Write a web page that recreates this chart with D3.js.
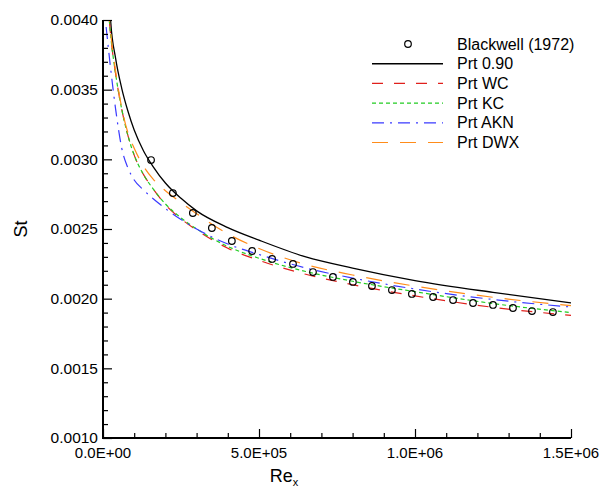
<!DOCTYPE html>
<html lang="en">
<head>
<meta charset="UTF-8">
<title>St vs Re_x</title>
<style>
  body { margin: 0; background: #fff; }
  text { font-family: "Liberation Sans", Arial, sans-serif; fill: #000; }
  .curve { fill: none; }
</style>
</head>
<body>
<script src="https://cdn.jsdelivr.net/npm/d3@7"></script>
<script>
// Re_x sample positions used for every model curve
const reGrid = [1e4, 2.5e4, 4e4, 6e4, 8e4, 1e5, 1.3e5, 1.6e5, 2e5, 2.5e5, 3e5, 4e5, 5e5, 6.5e5, 8e5, 1e6, 1.25e6, 1.5e6];

const stPrt090 = [0.0047, 0.00398, 0.00373, 0.00351, 0.003345, 0.00321, 0.00306, 0.00295, 0.00283, 0.00272, 0.00263, 0.00251, 0.00242, 0.0023, 0.00222, 0.00213, 0.002045, 0.00197];
const stWC  = [0.0043, 0.00388, 0.00362, 0.00336, 0.00317, 0.00303, 0.00289, 0.00279, 0.002675, 0.002573, 0.002492, 0.002362, 0.002275, 0.002175, 0.0021, 0.00202, 0.001938, 0.00188];
const stKC  = [0.0043, 0.00388, 0.00362, 0.00336, 0.00317, 0.00303, 0.00289, 0.00279, 0.00268, 0.00258, 0.0025, 0.002375, 0.00229, 0.002195, 0.002125, 0.00205, 0.001965, 0.0019];
const stAKN = [0.00395, 0.003641, 0.003368, 0.003081, 0.002938, 0.002852, 0.00278, 0.002719, 0.002647, 0.002568, 0.0025, 0.002392, 0.002317, 0.00222, 0.002148, 0.002069, 0.001994, 0.00194];
const stDWX = [0.0043, 0.0039, 0.00364, 0.00337, 0.00319, 0.00308, 0.00295, 0.00286, 0.002775, 0.00269, 0.00261, 0.002465, 0.00236, 0.002245, 0.00217, 0.00209, 0.00201, 0.00195];

// Blackwell (1972) measurements
const expRe = [1.54e5, 2.24e5, 2.88e5, 3.49e5, 4.13e5, 4.78e5, 5.42e5, 6.09e5, 6.73e5, 7.37e5, 8.01e5, 8.62e5, 9.26e5, 9.90e5, 1.058e6, 1.122e6, 1.186e6, 1.25e6, 1.314e6, 1.375e6, 1.442e6];
const expSt = [0.002995, 0.002758, 0.002615, 0.002507, 0.002414, 0.002342, 0.002285, 0.002249, 0.002191, 0.002156, 0.00212, 0.002091, 0.002062, 0.002034, 0.002012, 0.00199, 0.001969, 0.001955, 0.001933, 0.001911, 0.001904];

const xTicks = [0, 5e5, 1e6, 1.5e6];
const xTickLabels = ["0.0E+00", "5.0E+05", "1.0E+06", "1.5E+06"];
const yTicks = [0.001, 0.0015, 0.002, 0.0025, 0.003, 0.0035, 0.004];
const yTickLabels = ["0.0010", "0.0015", "0.0020", "0.0025", "0.0030", "0.0035", "0.0040"];

const series = [
  {name: "Prt 0.90", st: stPrt090, color: "#000000", dash: null},
  {name: "Prt WC",   st: stWC,     color: "#e0201c", dash: "11,11"},
  {name: "Prt KC",   st: stKC,     color: "#22cc22", dash: "4,3"},
  {name: "Prt AKN",  st: stAKN,    color: "#3a3aff", dash: "12,6,2,6"},
  {name: "Prt DWX",  st: stDWX,    color: "#ff8c1a", dash: "16,12"}
];

const width = 600, height = 489;
const margin = {top: 20, right: 29, bottom: 51, left: 103};

const x = d3.scaleLinear().domain([0, 1.5e6]).range([margin.left, width - margin.right]);
const y = d3.scaleLinear().domain([0.001, 0.004]).range([height - margin.bottom, margin.top]);

const svg = d3.select("body").append("svg")
  .attr("width", width)
  .attr("height", height);

svg.append("defs").append("clipPath").attr("id", "plot")
  .append("rect")
  .attr("x", margin.left).attr("y", margin.top)
  .attr("width", x.range()[1] - margin.left + 2)
  .attr("height", y.range()[0] - margin.top);

// curves
const line = d3.line().curve(d3.curveMonotoneX);
const plot = svg.append("g").attr("clip-path", "url(#plot)");
series.forEach(s => {
  plot.append("path")
    .attr("class", "curve")
    .attr("d", line(reGrid.map((r, i) => [x(r), y(s.st[i])])))
    .attr("stroke", s.color)
    .attr("stroke-width", s.dash ? 1.2 : 1.3)
    .attr("stroke-dasharray", s.dash);
});

svg.append("g")
  .selectAll("circle")
  .data(expRe.map((r, i) => ({re: r, st: expSt[i]})))
  .join("circle")
    .attr("cx", d => x(d.re))
    .attr("cy", d => y(d.st))
    .attr("r", 3.3)
    .attr("fill", "none")
    .attr("stroke", "#000")
    .attr("stroke-width", 1.2);

// axes (ticks point into the plot)
const xAxis = g => g
  .attr("transform", `translate(0,${y.range()[0]})`)
  .call(d3.axisTop(x).tickValues(d3.range(0, 1.5e6 + 1, 1e5)).tickSize(5).tickFormat(""))
  .call(g => g.selectAll(".tick line").filter(d => xTicks.includes(d)).attr("y2", -9))
  .call(g => g.select(".domain").remove());

const yAxis = g => g
  .attr("transform", `translate(${margin.left},0)`)
  .call(d3.axisRight(y).tickValues(d3.range(10, 41).map(v => v / 10000)).tickSize(5).tickFormat(""))
  .call(g => g.selectAll(".tick line").filter(d => yTicks.some(t => Math.abs(t - d) < 1e-9)).attr("x2", 9))
  .call(g => g.select(".domain").remove());

svg.append("g").call(xAxis).selectAll("line").attr("stroke", "#000").attr("stroke-width", 1.2);
svg.append("g").call(yAxis).selectAll("line").attr("stroke", "#000").attr("stroke-width", 1.2);

svg.append("path")
  .attr("d", `M${margin.left},${margin.top}V${y.range()[0]}H${x.range()[1]}`)
  .attr("fill", "none")
  .attr("stroke", "#000")
  .attr("stroke-width", 2);

svg.append("g").selectAll("text")
  .data(yTicks)
  .join("text")
    .attr("x", margin.left - 5)
    .attr("y", d => y(d))
    .attr("dy", "0.35em")
    .attr("text-anchor", "end")
    .attr("font-size", 15.5)
    .text((d, i) => yTickLabels[i]);

svg.append("g").selectAll("text")
  .data(xTicks)
  .join("text")
    .attr("x", d => x(d))
    .attr("y", y.range()[0] + 20)
    .attr("text-anchor", "middle")
    .attr("font-size", 15)
    .text((d, i) => xTickLabels[i]);

// axis titles
svg.append("text")
  .attr("transform", `translate(27,${y(0.0025)}) rotate(-90)`)
  .attr("text-anchor", "middle")
  .attr("font-size", 18)
  .text("St");

const xt = svg.append("text")
  .attr("x", x(0.58e6))
  .attr("y", 482)
  .attr("text-anchor", "middle")
  .attr("font-size", 18);
xt.append("tspan").text("Re");
xt.append("tspan").attr("font-size", 11).attr("dy", 4).text("x");

// legend
const leg = svg.append("g");
const rowY = i => 44 + i * 19.7;
leg.append("circle")
  .attr("cx", 408).attr("cy", rowY(0)).attr("r", 3.3)
  .attr("fill", "none").attr("stroke", "#000").attr("stroke-width", 1.2);
series.forEach((s, i) => {
  leg.append("line")
    .attr("x1", 372).attr("x2", 443)
    .attr("y1", rowY(i + 1)).attr("y2", rowY(i + 1))
    .attr("stroke", s.color)
    .attr("stroke-width", s.dash ? 1.2 : 1.5)
    .attr("stroke-dasharray", s.dash);
});
leg.selectAll("text")
  .data(["Blackwell (1972)"].concat(series.map(s => s.name)))
  .join("text")
    .attr("x", 457)
    .attr("y", (d, i) => rowY(i))
    .attr("dy", "0.35em")
    .attr("font-size", 16)
    .text(d => d);
</script>
</body>
</html>
